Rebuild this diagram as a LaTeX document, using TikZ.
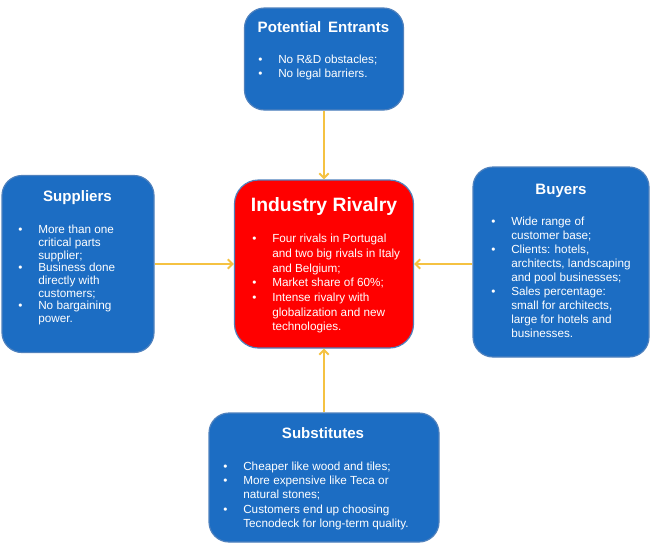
\documentclass[tikz,border=0pt]{standalone}
\usepackage{fontspec}
\setmainfont{Liberation Sans}
\usetikzlibrary{arrows.meta}
\definecolor{boxblue}{HTML}{1C6DC3}
\definecolor{edgeblue}{HTML}{4F81BD}
\definecolor{rivalred}{HTML}{FF0000}
\definecolor{arrowgold}{HTML}{F5C242}
\newcommand{\itemb}{\makebox[15pt][l]{\textbullet}}
\newcommand{\itemc}{\hspace*{15pt}}
\begin{document}
\begin{tikzpicture}[x=0.75pt,y=-0.75pt,
  forcebox/.style={draw=edgeblue, line width=0.9pt, fill=boxblue, rounded corners=15pt, inner sep=0pt},
  rivalbox/.style={forcebox, fill=rivalred, rounded corners=18pt},
  boxtitle/.style={text=white, inner sep=0pt, font=\bfseries\fontsize{11.3}{13}\selectfont},
  rivaltitle/.style={boxtitle, font=\bfseries\fontsize{14.5}{17}\selectfont},
  boxbody/.style={text=white, inner sep=0pt, anchor=north west, align=left},
  forcearrow/.style={draw=arrowgold, line width=1.5pt, -{Straight Barb[length=3.5pt,width=7pt]}}
]
\useasboundingbox (0,0) rectangle (650,554);

% boxes
\node[forcebox, minimum width=119.25pt, minimum height=76.5pt] (pe) at (324,59) {};
\node[forcebox, minimum width=114pt, minimum height=132.75pt] (sup) at (78,264) {};
\node[rivalbox, minimum width=134.25pt, minimum height=126pt] (ir) at (324,264) {};
\node[forcebox, minimum width=132pt, minimum height=142.5pt] (buy) at (561,262) {};
\node[forcebox, minimum width=172.5pt, minimum height=96.75pt] (sub) at (324,477.5) {};

% titles
\node[boxtitle] (pe-title) at (323.5,27) {Potential\hspace{0.45em}Entrants};
\node[boxtitle] (sup-title) at (77.5,198) {Suppliers};
\node[rivaltitle] (ir-title) at (324,206) {Industry Rivalry};
\node[boxtitle] (buy-title) at (561,191) {Buyers};
\node[boxtitle] (sub-title) at (323,433) {Substitutes};

% bodies
\node[boxbody, font=\fontsize{8.8}{10.5}\selectfont] (pe-body) at (258,55)
  {\itemb No R\&D obstacles;\\
   \itemb No legal barriers.};
\node[boxbody, font=\fontsize{8.8}{9.5}\selectfont] (sup-body) at (18,225)
  {\itemb More than one\\
   \itemc critical parts\\
   \itemc supplier;\\
   \itemb Business done\\
   \itemc directly with\\
   \itemc customers;\\
   \itemb No bargaining\\
   \itemc power.};
\node[boxbody, font=\fontsize{8.8}{11}\selectfont] (ir-body) at (252,234)
  {\itemb Four rivals in Portugal\\
   \itemc and two big rivals in Italy\\
   \itemc and Belgium;\\
   \itemb Market share of 60\%;\\
   \itemb Intense rivalry with\\
   \itemc globalization and new\\
   \itemc technologies.};
\node[boxbody, font=\fontsize{8.8}{10.5}\selectfont] (buy-body) at (491,217)
  {\itemb Wide range of\\
   \itemc customer base;\\
   \itemb Clients: hotels,\\
   \itemc architects, landscaping\\
   \itemc and pool businesses;\\
   \itemb Sales percentage:\\
   \itemc small for architects,\\
   \itemc large for hotels and\\
   \itemc businesses.};
\node[boxbody, font=\fontsize{8.8}{10.3}\selectfont] (sub-body) at (223,462)
  {\itemb Cheaper like wood and tiles;\\
   \itemb More expensive like Teca or\\
   \itemc natural stones;\\[1.5pt]
   \itemb Customers end up choosing\\
   \itemc Tecnodeck for long-term quality.};

% connectors
\draw[forcearrow] (pe.south) -- (ir.north);
\draw[forcearrow] (sup.east) -- (ir.west);
\draw[forcearrow] (buy.west |- ir.east) -- (ir.east);
\draw[forcearrow] (sub.north) -- (ir.south);
\end{tikzpicture}
\end{document}
